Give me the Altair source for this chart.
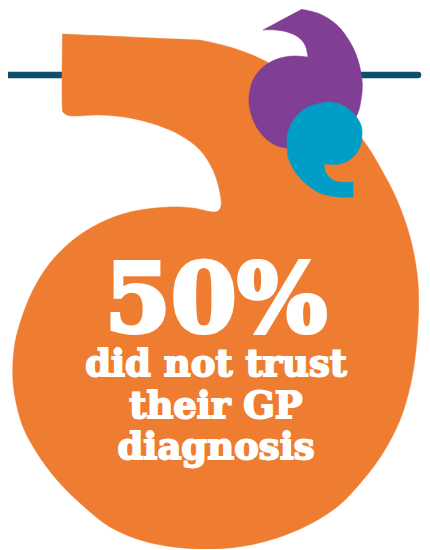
import altair as alt
import pandas as pd

# outlines, in picture pixels; a repeated point is a sharp corner
orange_x = [62.5,62.5,130,200,200,233,267,300,335,363,380,397,410,417,418.7,416,410,400,383,363,337,300,250,200,147,110,80,57,37,23,15,12.7,15,22,33,50,73,100,130,170,193,213,218,221,220,213,200,180,157,130,100,72,67,63,62.3,62.5,62.5]
orange_y = [34,34,37,40,40,48,62,85,110,140,167,200,237,273,303,350,387,420,453,480,507,529,545,549,542,527,503,480,453,427,397,373,343,317,290,263,240,223,212,207,208,212,211,206,193,170,150,135,125,118,115,116,115,112,107,34,34]
purple_x = [301.7,301.7,320,337,350,358,362.3,361,357,340,287,270,257,250,249,253,263,277,293,308,308,305,298,287,275,263,263,301.7,301.7]
purple_y = [9.3,9.3,14,25,42,60,83,100,115,135,148,142,128,110,97,80,67,59,56,57,57,45,37,32,30,30,30,9.3,9.3]
blue_x = [327,340,353,361,362,360,352,340,324,324,326,335,353,353,353,353,340,320,300,289,287,288,295,308,327]
blue_y = [102,104,113,125,135,147,158,164,164,164,173,181,182,182,197,197,197,193,178,160,145,132,118,107,102]
line_x = [8, 418]
line_y = [75, 75]
headline = ["50%"]
sub_lines = ["did not trust", "their GP", "diagnosis"]
headline_x = [216]
headline_y = [332]
sub_x = [216, 216, 216]
sub_y = [376, 418, 459]

X = alt.Scale(domain=[8, 422], nice=False, zero=False)
Y = alt.Scale(domain=[549, 8], nice=False, zero=False)

def enc(mark):
    return mark.encode(
        x=alt.X("x:Q", scale=X, axis=None),
        y=alt.Y("y:Q", scale=Y, axis=None),
        order=alt.Order("i:Q"),
    )

def shape(xs, ys, color):
    df = pd.DataFrame({"x": xs, "y": ys, "i": range(len(xs))})
    return enc(alt.Chart(df).mark_line(
        interpolate="catmull-rom", fill=color, stroke=color, strokeWidth=0.5, clip=False))

rule = alt.Chart(pd.DataFrame({"x": line_x, "y": line_y, "i": [0, 1]}))
rule = enc(rule.mark_line(color="#0F4F6C", strokeWidth=6.5, strokeCap="round"))

def text(lines, xs, ys, size, sw):
    df = pd.DataFrame({"t": lines, "x": xs, "y": ys})
    return alt.Chart(df).mark_text(
        font="DejaVu Serif", fontWeight="bold", fontSize=size, color="white",
        stroke="white", strokeWidth=sw, align="center", baseline="alphabetic",
    ).encode(
        x=alt.X("x:Q", scale=X, axis=None),
        y=alt.Y("y:Q", scale=Y, axis=None),
        text="t:N",
    )

chart = alt.layer(
    rule,
    shape(orange_x, orange_y, "#EE7D31"),
    shape(purple_x, purple_y, "#803F95"),
    shape(blue_x, blue_y, "#009DC6"),
    text(headline, headline_x, headline_y, 95, 4),
    text(sub_lines, sub_x, sub_y, 37, 1.8),
).properties(
    width=414, height=541, padding=0,
    autosize=alt.AutoSizeParams(type="none"),
    background="white",
).configure_view(stroke=None)

chart.save("out.html", embed_options={"renderer": "svg", "actions": False})
